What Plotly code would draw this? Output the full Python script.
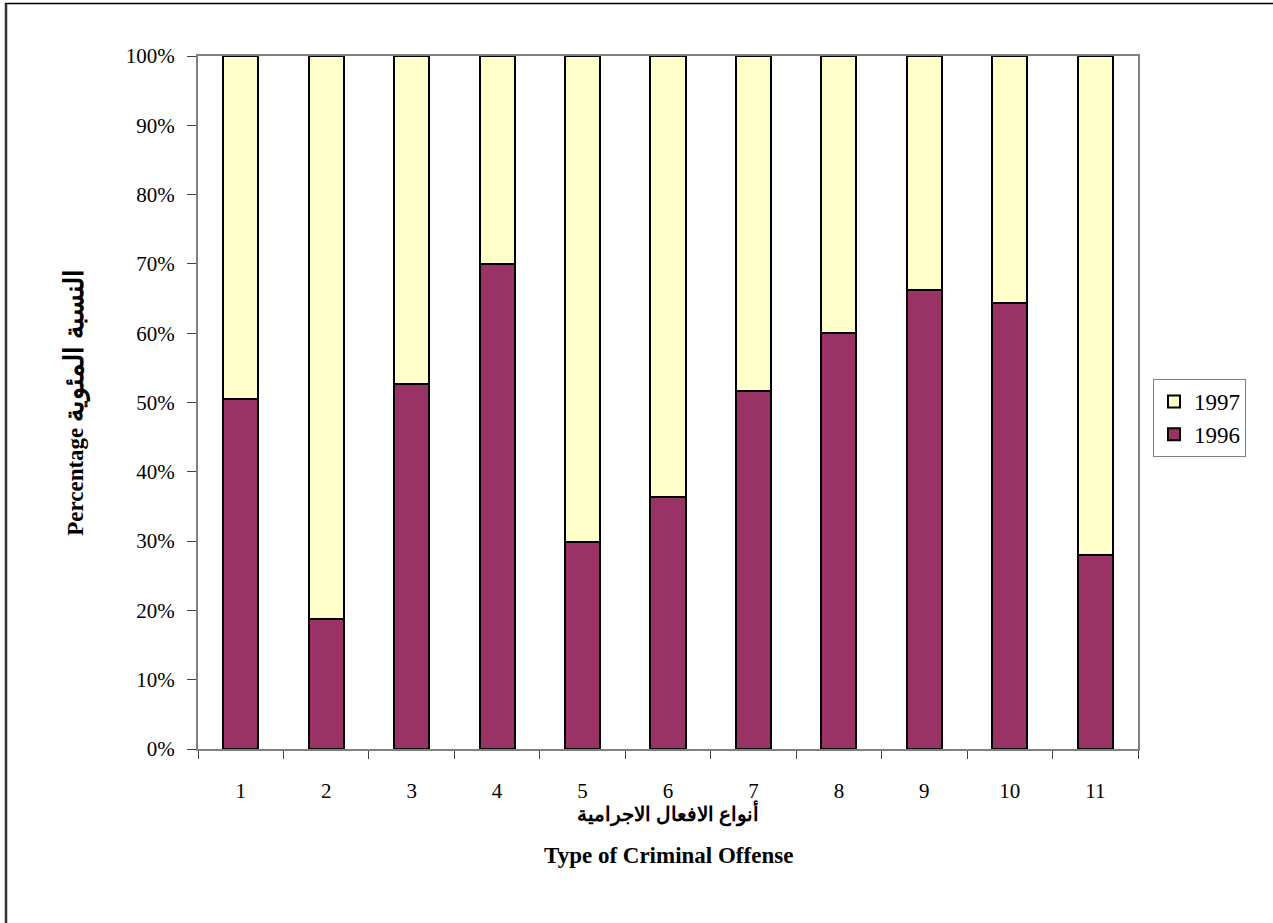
import plotly.graph_objects as go

categories = ["1", "2", "3", "4", "5", "6", "7", "8", "9", "10", "11"]
pct_1996 = [50.5, 18.7, 52.6, 70.0, 29.9, 36.3, 51.6, 60.1, 66.2, 64.4, 28.0]
pct_1997 = [100 - v for v in pct_1996]
y_ticks = [0, 10, 20, 30, 40, 50, 60, 70, 80, 90, 100]
y_tick_labels = [f"{t}%" for t in y_ticks]

W, H = 1273, 923
L, R, T, B = 198, W - 1138, 56, H - 749
pw, ph = W - L - R, H - T - B

def px_x(x):
    return (x - L) / pw

def px_y(y):
    return (H - B - y) / ph

FONT = "Liberation Serif, Times New Roman, serif"

fig = go.Figure()
fig.add_trace(go.Bar(x=categories, y=pct_1996, name="1996", legendrank=2,
                     marker=dict(color="#993366", line=dict(color="black", width=2)),
                     width=0.41))
fig.add_trace(go.Bar(x=categories, y=pct_1997, name="1997", legendrank=1,
                     marker=dict(color="#FFFFCC", line=dict(color="black", width=2)),
                     width=0.41))

fig.update_layout(
    barmode="stack",
    width=W, height=H,
    margin=dict(l=L, r=R, t=T, b=B, pad=0),
    paper_bgcolor="white", plot_bgcolor="white",
    font=dict(family=FONT, size=21, color="black"),
    showlegend=True,
    legend=dict(traceorder="normal", x=px_x(1153), y=px_y(379),
                xanchor="left", yanchor="top",
                bordercolor="#808080", borderwidth=1,
                font=dict(family=FONT, size=23),
                itemwidth=30),
    xaxis=dict(type="category", showline=True, linecolor="#808080", linewidth=2,
               mirror=True, ticks="outside", tickson="boundaries", ticklen=8,
               tickcolor="#404040", tickwidth=1, showgrid=False,
               ticklabelstandoff=22, tickfont=dict(size=21)),
    yaxis=dict(range=[0, 100], tickvals=y_ticks, ticktext=y_tick_labels,
               showline=True, linecolor="#808080", linewidth=2, mirror=True,
               ticks="outside", ticklen=9, tickcolor="#404040", tickwidth=1,
               showgrid=False, zeroline=False, ticklabelstandoff=8,
               tickfont=dict(size=21),
               title=dict(text="<b>Percentage <span style='font-size:27px'>النسبة المئوية</span></b>",
                          font=dict(family=FONT, size=23), standoff=36)),
)

fig.add_annotation(text="<b>أنواع الافعال الاجرامية</b>", xref="paper", yref="paper",
                   x=0.5, y=px_y(813), xanchor="center", yanchor="middle",
                   showarrow=False, font=dict(family=FONT, size=20))
fig.add_annotation(text="<b>Type of Criminal Offense</b>", xref="paper", yref="paper",
                   x=0.5, y=px_y(855), xanchor="center", yanchor="middle",
                   showarrow=False, font=dict(family=FONT, size=23))

# outer chart frame (left and top edges visible)
fig.add_shape(type="line", xref="paper", yref="paper",
              x0=px_x(6), x1=px_x(6), y0=px_y(923), y1=px_y(3),
              line=dict(color="#333333", width=2.5))
fig.add_shape(type="line", xref="paper", yref="paper",
              x0=px_x(5), x1=px_x(1273), y0=px_y(3.5), y1=px_y(3.5),
              line=dict(color="black", width=1.5))

fig.write_html("out.html", config={"displayModeBar": False},
               post_script="document.body.style.margin='0';")
